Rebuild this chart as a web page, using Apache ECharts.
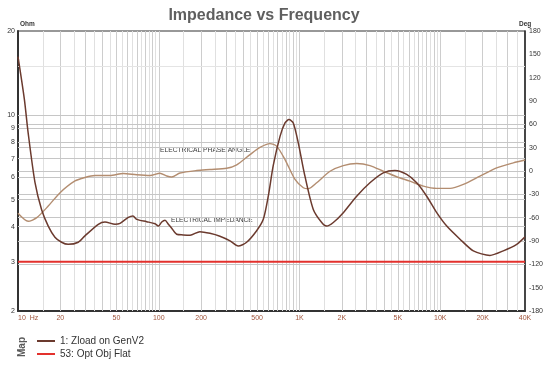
<!DOCTYPE html>
<html><head><meta charset="utf-8">
<script src="https://cdn.jsdelivr.net/npm/echarts@6/dist/echarts.min.js"></script>
<style>html,body{margin:0;padding:0;background:#fff}#c{width:550px;height:365px}</style>
</head><body><div id="c"></div>
<script>
// ---- data ----
const impFreq = [10,11.1,11.8,13.2,14.7,16.4,18.3,20.4,22.7,26.8,29.9,37.2,41.5,48.9,53.1,60.8,65.6,69.7,82.1,94.1,99.3,105,110.8,117,123.6,134,149,167,196,231,272,321,367,421,496,553,600,651,727,789,842,903,980,1093,1253,1438,1560,1738,2047,2548,3165,3936,4766,5775,6803,8013,9437,11120,13810,17180,22560,28050,34920,40000];
const impOhm = [16.2,11.4,8.67,5.76,4.61,4.02,3.67,3.52,3.46,3.52,3.71,4.08,4.16,4.08,4.11,4.32,4.37,4.25,4.17,4.10,4.02,4.16,4.22,4.08,3.95,3.76,3.74,3.73,3.84,3.79,3.70,3.56,3.41,3.52,3.87,4.25,5.14,6.62,8.41,9.39,9.65,9.39,7.97,6.06,4.61,4.14,4.02,4.14,4.49,5.14,5.74,6.23,6.35,6.15,5.74,5.14,4.49,4.02,3.61,3.28,3.16,3.28,3.46,3.68];
const phaseFreq = [10,11.8,13.6,16.4,19.9,25.4,29.9,35.2,45,56,69.7,86.7,102,114,123.6,141.6,186,231,304,358,445,524,617,688,789,929,1064,1156,1325,1647,2047,2548,3165,3936,4900,6095,7580,9437,11730,14590,19150,25160,33040,40000];
const phaseDeg = [-54.4,-64.7,-60,-45.1,-27.9,-12.8,-8.3,-5.8,-5.8,-3.2,-4.9,-5.8,-2.9,-6.4,-7.7,-2.6,0.6,1.9,3.6,7.9,21.1,30.4,35.2,32,14.7,-10.9,-21.5,-22.8,-15.1,-0.3,7.0,9.6,7.0,-0.3,-7.4,-13.1,-19.5,-22.4,-22.4,-17.3,-6.7,4.1,10.5,14.1];
const targetFreq = [10,40000];
const targetOhm = [3,3];
const xTickValues = [10,20,50,100,200,500,1000,2000,5000,10000,20000,40000];
const xTickLabels = ['10  Hz','20','50','100','200','500','1K','2K','5K','10K','20K','40K'];
const ohmTicks = [2,3,4,5,6,7,8,9,10,20];
const ohmGrid = [4,5,6,7,8,9,10,15];
const degGrid = [-120,-90,-60,-30,0,30,60];
const decades = [10,100,1000,10000];
const mantissas = [1,1.5,2,2.5,3,3.5,4,4.5,5,5.5,6,6.5,7,7.5,8,8.5,9,9.5];

const zip = (a,b)=>a.map((v,i)=>[v,b[i]]);
const xLines = [];
decades.forEach(d=>mantissas.forEach(m=>{
  const f = d*m;
  if (f>10 && f<40000) xLines.push({xAxis:f, lineStyle:{color: Number.isInteger(m)?'#cdcdcd':'#e0e0e0'}});
}));
const yLines = ohmGrid.map(v=>({yAxis:v, lineStyle:{color: v===15?'#e4e4e4':'#c6c6c6'}}));
const dLines = degGrid.map(v=>({yAxis:v}));

const chart = echarts.init(document.getElementById('c'), null, {renderer:'canvas'});
const F = 'Liberation Sans, Arial, sans-serif';
chart.setOption({
  animation:false,
  title:{text:'Impedance vs Frequency', left:259, textAlign:'center', top:3,
    textStyle:{fontFamily:F, fontSize:16, fontWeight:'bold', color:'#5f5f5f'}},
  grid:{left:18, top:31, width:507, height:280, show:true, borderColor:'#333', borderWidth:1.2, containLabel:false},
  xAxis:{type:'log', logBase:10, min:10, max:40000,
    axisLine:{show:true, onZero:false, lineStyle:{color:'#333', width:2}},
    axisTick:{show:false}, splitLine:{show:false}, minorSplitLine:{show:false},
    axisLabel:{customValues:xTickValues, fontFamily:F, fontSize:7, color:'#a0553c', margin:4, alignMinLabel:'left',
      formatter:(v)=>{const i=xTickValues.findIndex(t=>Math.abs(t-v)/t<1e-6); return i>=0?xTickLabels[i]:'';}}},
  yAxis:[
    {type:'log', logBase:10, min:2, max:20,
      axisLine:{show:true, onZero:false, lineStyle:{color:'#333', width:2}},
      axisTick:{show:false}, splitLine:{show:false},
      axisLabel:{customValues:ohmTicks, fontFamily:F, fontSize:7, color:'#333', margin:3}},
    {type:'value', min:-180, max:180, interval:30, position:'right',
      axisLine:{show:true, onZero:false, lineStyle:{color:'#333', width:1.5}},
      axisTick:{show:false}, splitLine:{show:false},
      axisLabel:{fontFamily:F, fontSize:7, color:'#333', margin:4}}
  ],
  legend:{orient:'vertical', left:37, top:336, padding:0, itemGap:3, itemWidth:18, itemHeight:2,
    icon:'rect', data:['1: Zload on GenV2','53: Opt Obj Flat'],
    textStyle:{fontFamily:F, fontSize:10, color:'#333'}},
  series:[
    {name:'gridX', type:'line', data:[], xAxisIndex:0, yAxisIndex:0, z:1, silent:true,
      markLine:{silent:true, z:1, symbol:['none','none'], label:{show:false}, animation:false,
        lineStyle:{type:'solid', width:1}, data: xLines.concat(yLines)}},
    {name:'gridD', type:'line', data:[], xAxisIndex:0, yAxisIndex:1, z:1, silent:true,
      markLine:{silent:true, z:1, symbol:['none','none'], label:{show:false}, animation:false,
        lineStyle:{type:'solid', width:1, color:'#c6c6c6'}, data: dLines}},
    {name:'53: Opt Obj Flat', type:'line', yAxisIndex:0, data:zip(targetFreq,targetOhm),
      showSymbol:false, z:3, lineStyle:{color:'#e3312d', width:2}, itemStyle:{color:'#e3312d'}},
    {name:'phase', type:'line', yAxisIndex:1, data:zip(phaseFreq,phaseDeg), smooth:0.25,
      showSymbol:false, z:4, lineStyle:{color:'#b38d70', width:1.4}, itemStyle:{color:'#b38d70'}},
    {name:'1: Zload on GenV2', type:'line', yAxisIndex:0, data:zip(impFreq,impOhm), smooth:0.25,
      showSymbol:false, z:5, lineStyle:{color:'#6b3a2e', width:1.5}, itemStyle:{color:'#6b3a2e'}}
  ],
  graphic:[
    {type:'text', left:20, top:21, style:{text:'Ohm', font:'bold 6.5px '+F, fill:'#333'}},
    {type:'text', left:519, top:21, style:{text:'Deg', font:'bold 6.5px '+F, fill:'#333'}},
    {type:'text', left:160, top:147, style:{text:'ELECTRICAL PHASE ANGLE', font:'6.7px '+F, fill:'#3a3a3a'}},
    {type:'text', left:171, top:217, style:{text:'ELECTRICAL IMPEDANCE', font:'6.6px '+F, fill:'#3a3a3a'}},
    {type:'text', left:17, top:337, style:{text:'Map', font:'bold 10px '+F, fill:'#5a5a5a'}, rotation:Math.PI/2, originX:0, originY:0}
  ]
});
</script></body></html>
